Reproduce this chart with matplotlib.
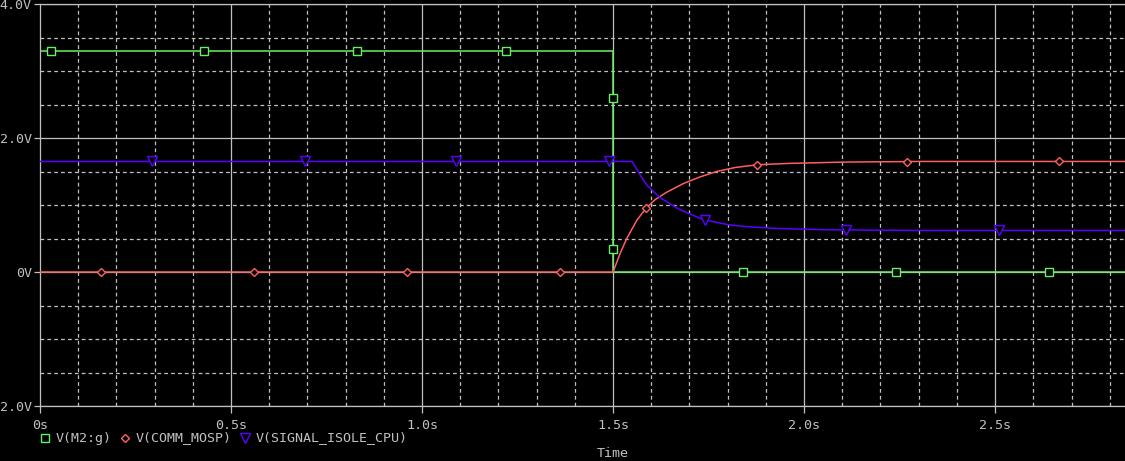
import matplotlib
matplotlib.use("Agg")
import matplotlib.pyplot as plt
from matplotlib.lines import Line2D

# ---- data ----
t_m2g = [0.0, 1.5, 1.5, 2.84]
v_m2g = [3.3, 3.3, 0.0, 0.0]
mk_t_m2g = [0.03, 0.43, 0.83, 1.22, 1.5, 1.5, 1.84, 2.24, 2.64]
mk_v_m2g = [3.3, 3.3, 3.3, 3.3, 2.6, 0.35, 0.0, 0.0, 0.0]

t_comm = [0.0, 1.5, 1.518, 1.535, 1.562, 1.586, 1.610, 1.640, 1.684, 1.728, 1.771, 1.820, 1.877, 1.955, 2.10, 2.30, 2.84]
v_comm = [0.0, 0.0, 0.27, 0.49, 0.77, 0.95, 1.08, 1.19, 1.32, 1.42, 1.50, 1.56, 1.60, 1.62, 1.64, 1.65, 1.65]
mk_t_comm = [0.16, 0.56, 0.96, 1.36, 1.586, 1.877, 2.27, 2.667]
mk_v_comm = [0.0, 0.0, 0.0, 0.0, 0.95, 1.60, 1.64, 1.65]

t_sig = [0.0, 1.55, 1.571, 1.588, 1.606, 1.623, 1.649, 1.675, 1.702, 1.728, 1.763, 1.798, 1.841, 1.928, 2.06, 2.30, 2.84]
v_sig = [1.65, 1.65, 1.448, 1.30, 1.20, 1.11, 1.02, 0.93, 0.866, 0.80, 0.75, 0.71, 0.68, 0.65, 0.63, 0.62, 0.62]
mk_t_sig = [0.293, 0.694, 1.09, 1.49, 1.74, 2.11, 2.51]
mk_v_sig = [1.65, 1.65, 1.65, 1.65, 0.78, 0.63, 0.62]

x_ticks = [0.0, 0.5, 1.0, 1.5, 2.0, 2.5]
x_labels = ["0s", "0.5s", "1.0s", "1.5s", "2.0s", "2.5s"]
y_ticks = [-2.0, 0.0, 2.0, 4.0]
y_labels = ["2.0V", "0V", "2.0V", "4.0V"]
legend_names = ["V(M2:g)", "V(COMM_MOSP)", "V(SIGNAL_ISOLE_CPU)"]

# ---- styling ----
BG = "black"
FG = "#c0c0c0"
GREEN = "#66f066"
RED = "#ff5f5f"
BLUE = "#5a00ff"
FONT = "DejaVu Sans Mono"
FS = 9.6

W, H = 1125, 461
fig = plt.figure(figsize=(W / 100, H / 100), dpi=100, facecolor=BG)
ax = fig.add_axes([40 / W, (H - 406) / H, (W - 40) / W, 402 / H], facecolor=BG)

ax.set_xlim(0, 2.84)
ax.set_ylim(-2, 4)

# minor dashed grid
for xv in [i / 10 for i in range(1, 29)]:
    if abs(xv * 2 - round(xv * 2)) > 1e-6:
        ax.axvline(xv, color=FG, lw=0.9, ls=(0, (3, 2.5)), zorder=1)
for yv in [-1.5, -1.0, -0.5, 0.5, 1.0, 1.5, 2.5, 3.0, 3.5]:
    ax.axhline(yv, color=FG, lw=0.9, ls=(0, (3, 2.5)), zorder=1)
# major solid grid
for xv in x_ticks[1:]:
    ax.axvline(xv, color=FG, lw=0.9, zorder=1)
for yv in y_ticks:
    ax.axhline(yv, color=FG, lw=0.9, zorder=1)

lw = 1.1
ax.plot(t_m2g, v_m2g, color=GREEN, lw=lw, zorder=3)
ax.plot(t_comm, v_comm, color=RED, lw=lw, zorder=3)
ax.plot(t_sig, v_sig, color=BLUE, lw=lw, zorder=3)

ax.plot(mk_t_m2g, mk_v_m2g, ls="none", marker="s", ms=5.5, mfc=BG, mec=GREEN, mew=1.0, zorder=4)
ax.plot(mk_t_comm, mk_v_comm, ls="none", marker="D", ms=4.2, mfc=BG, mec=RED, mew=1.0, zorder=4)
ax.plot(mk_t_sig, mk_v_sig, ls="none", marker="v", ms=6.5, mfc=BG, mec=BLUE, mew=1.0, zorder=4)

for s in ["left", "bottom", "top"]:
    ax.spines[s].set_color(FG)
    ax.spines[s].set_linewidth(0.9)
ax.spines["right"].set_visible(False)

ax.set_xticks(x_ticks)
ax.set_xticklabels(x_labels)
ax.set_yticks(y_ticks)
ax.set_yticklabels(y_labels)
ax.tick_params(axis="x", colors=FG, length=5, width=0.9, pad=4, labelsize=FS)
ax.tick_params(axis="y", colors=FG, length=4, width=0.9, pad=2, labelsize=FS)
for lab in ax.get_xticklabels() + ax.get_yticklabels():
    lab.set_fontfamily(FONT)
    lab.set_color(FG)

# legend row
leg_y = 1 - 438 / H
items = [(45, 56, "s", GREEN, 5.5, legend_names[0]),
         (125, 136, "D", RED, 4.2, legend_names[1]),
         (245, 256, "v", BLUE, 6.5, legend_names[2])]
for mx, tx, m, c, ms, name in items:
    fig.add_artist(Line2D([mx / W], [leg_y], transform=fig.transFigure, ls="none",
                          marker=m, ms=ms, mfc=BG, mec=c, mew=1.0))
    fig.text(tx / W, leg_y, name, color=FG, fontsize=FS, family=FONT, va="center", ha="left")

fig.text(613 / W, 1 - 453 / H, "Time", color=FG, fontsize=FS, family=FONT, va="center", ha="center")

fig.savefig("out.png", dpi=100, facecolor=BG)
